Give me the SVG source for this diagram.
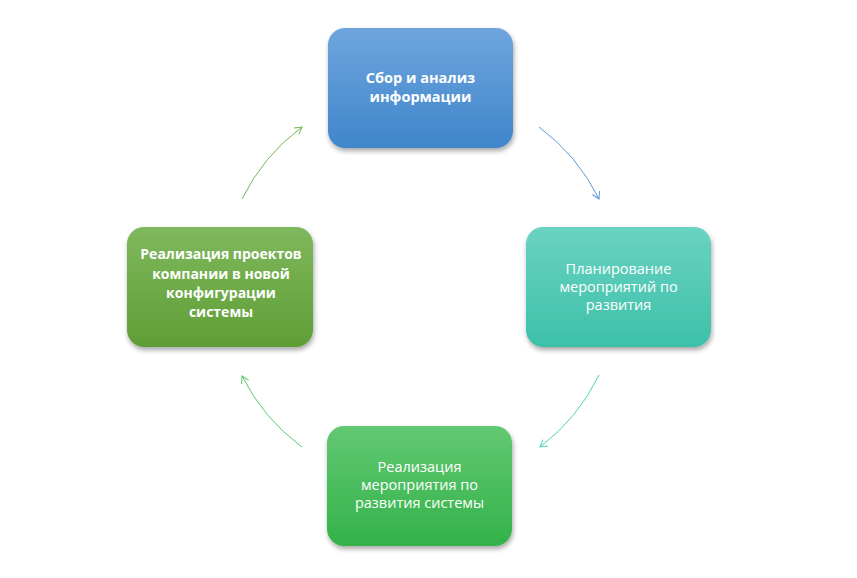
<svg xmlns="http://www.w3.org/2000/svg" width="857" height="578" viewBox="0 0 857 578">
<defs>
<linearGradient id="gBlue" x1="0" y1="0" x2="0" y2="1"><stop offset="0" stop-color="#6fa5de"/><stop offset="1" stop-color="#3f86cb"/></linearGradient>
<linearGradient id="gTeal" x1="0" y1="0" x2="0" y2="1"><stop offset="0" stop-color="#6ad3c1"/><stop offset="1" stop-color="#3dc0aa"/></linearGradient>
<linearGradient id="gGreen" x1="0" y1="0" x2="0" y2="1"><stop offset="0" stop-color="#63c872"/><stop offset="1" stop-color="#33b24a"/></linearGradient>
<linearGradient id="gOlive" x1="0" y1="0" x2="0" y2="1"><stop offset="0" stop-color="#7fb85d"/><stop offset="1" stop-color="#5f9e35"/></linearGradient>
<filter id="sh" x="-10%" y="-10%" width="125%" height="130%"><feGaussianBlur in="SourceAlpha" stdDeviation="2.5"/><feOffset dx="1" dy="3"/><feComponentTransfer><feFuncA type="linear" slope="0.35"/></feComponentTransfer><feMerge><feMergeNode/><feMergeNode in="SourceGraphic"/></feMerge></filter>
<marker id="mBlue" markerWidth="10" markerHeight="10" refX="8" refY="5" orient="auto" markerUnits="userSpaceOnUse"><path d="M1,1 L8,5 L1,9" fill="none" stroke="#5b9bd5" stroke-width="1"/></marker>
<marker id="mTeal" markerWidth="10" markerHeight="10" refX="8" refY="5" orient="auto" markerUnits="userSpaceOnUse"><path d="M1,1 L8,5 L1,9" fill="none" stroke="#4fd1b8" stroke-width="1"/></marker>
<marker id="mGreen" markerWidth="10" markerHeight="10" refX="8" refY="5" orient="auto" markerUnits="userSpaceOnUse"><path d="M1,1 L8,5 L1,9" fill="none" stroke="#5ac86a" stroke-width="1"/></marker>
<marker id="mOlive" markerWidth="10" markerHeight="10" refX="8" refY="5" orient="auto" markerUnits="userSpaceOnUse"><path d="M1,1 L8,5 L1,9" fill="none" stroke="#72b84e" stroke-width="1"/></marker>
</defs>
<style>
.box{filter:url(#sh)}
.t{font-family:"Open Sans","Liberation Sans",sans-serif;font-size:14.5px;fill:#fff;text-anchor:middle}
.b{font-weight:bold}
.s{font-size:14px}
.c{fill:none;stroke-width:1}
</style>
<g id="connectors">
<path class="c" d="M539,127 A199,199 0 0 1 599,199" stroke="#5b9bd5" marker-end="url(#mBlue)"/>
<path class="c" d="M599,375 A199,199 0 0 1 540,447" stroke="#4fd1b8" marker-end="url(#mTeal)"/>
<path class="c" d="M302,447 A199,199 0 0 1 242,376" stroke="#5ac86a" marker-end="url(#mGreen)"/>
<path class="c" d="M242,199 A199,199 0 0 1 302,127" stroke="#72b84e" marker-end="url(#mOlive)"/>
</g>
<g id="node1">
<rect class="box" x="328" y="28" width="185" height="120" rx="17" fill="url(#gBlue)"/>
<text class="t b" x="420.5" y="83">Сбор и анализ</text>
<text class="t b" x="420.5" y="102">информации</text>
</g>
<g id="node2">
<rect class="box" x="526" y="227" width="185" height="120" rx="17" fill="url(#gTeal)"/>
<text class="t" x="618.5" y="274">Планирование</text>
<text class="t" x="618.5" y="292">мероприятий по</text>
<text class="t" x="618.5" y="310">развития</text>
</g>
<g id="node3">
<rect class="box" x="327" y="426" width="185" height="120" rx="17" fill="url(#gGreen)"/>
<text class="t" x="419.5" y="472">Реализация</text>
<text class="t" x="419.5" y="490">мероприятия по</text>
<text class="t" x="419.5" y="508">развития системы</text>
</g>
<g id="node4">
<rect class="box" x="127" y="227" width="186" height="120" rx="17" fill="url(#gOlive)"/>
<text class="t b s" x="221" y="259">Реализация проектов</text>
<text class="t b s" x="221" y="278.5">компании в новой</text>
<text class="t b s" x="221" y="298">конфигурации</text>
<text class="t b s" x="221" y="317">системы</text>
</g>
</svg>
